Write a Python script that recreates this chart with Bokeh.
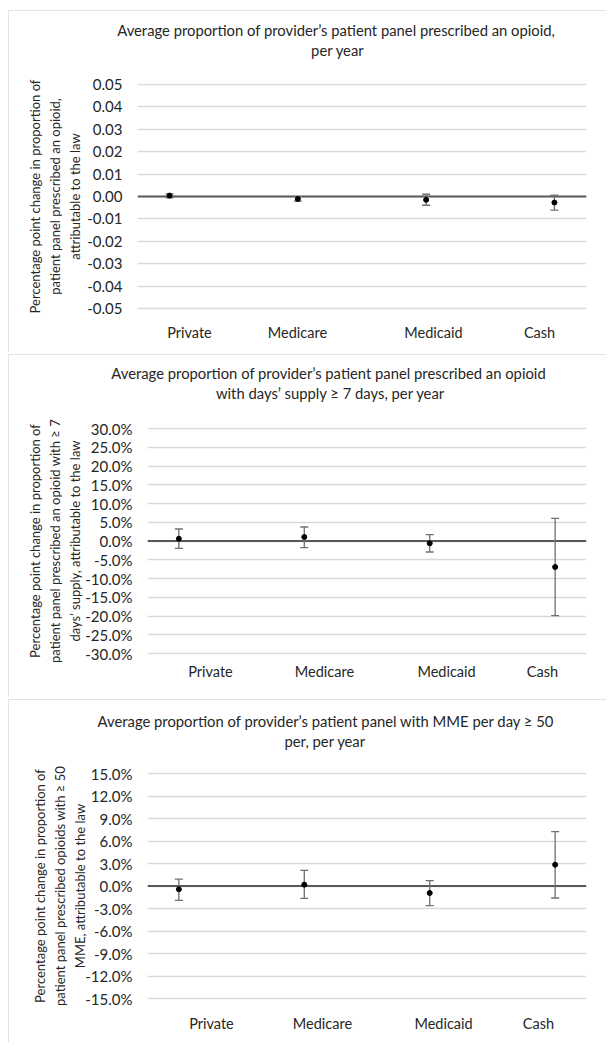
from bokeh.plotting import figure
from bokeh.layouts import column, row
from bokeh.models import FixedTicker, NumeralTickFormatter, Span, Title, ColumnDataSource
from bokeh.embed import file_html
from bokeh.resources import INLINE

# ---------------- data ----------------
CATEGORIES = ["Private", "Medicare", "Medicaid", "Cash"]

P1_EST = [0.0004, -0.0011, -0.0015, -0.0027]
P1_LO = [-0.0006, -0.0021, -0.0039, -0.0061]
P1_HI = [0.0012, -0.0001, 0.0010, 0.0006]
P1_TICKS = [-0.05, -0.04, -0.03, -0.02, -0.01, 0.0, 0.01, 0.02, 0.03, 0.04, 0.05]

P2_EST = [0.0060, 0.0107, -0.0062, -0.0693]
P2_LO = [-0.0195, -0.0178, -0.0293, -0.1990]
P2_HI = [0.0320, 0.0373, 0.0169, 0.0604]
P2_TICKS = [-0.30, -0.25, -0.20, -0.15, -0.10, -0.05, 0.0, 0.05, 0.10, 0.15, 0.20, 0.25, 0.30]

P3_EST = [-0.0044, 0.0018, -0.0093, 0.0284]
P3_LO = [-0.0191, -0.0164, -0.0262, -0.0160]
P3_HI = [0.0093, 0.0209, 0.0071, 0.0724]
P3_TICKS = [-0.15, -0.12, -0.09, -0.06, -0.03, 0.0, 0.03, 0.06, 0.09, 0.12, 0.15]

P1_TITLE = ["Average proportion of provider\u2019s patient panel prescribed an opioid,",
            "per year"]
P1_YTITLE = ["Percentage point change in proportion of",
             "patient panel prescribed an opioid,",
             "attributable to the law"]
P2_TITLE = ["Average proportion of provider\u2019s patient panel prescribed an opioid",
            "with days\u2019 supply \u2265 7 days, per year"]
P2_YTITLE = ["Percentage point change in proportion of",
             "patient panel prescribed an opioid with \u2265 7",
             "days\u2019 supply, attributable to the law"]
P3_TITLE = ["Average proportion of provider\u2019s patient panel with MME per day \u2265 50",
            "per, per year"]
P3_YTITLE = ["Percentage point change in proportion of",
             "patient panel prescribed opioids with \u2265 50",
             "MME, attributable to the law"]

# ---------------- style / layout ----------------
FONT = "Lato"
TEXT = "#262626"
GRID = "#d9d9d9"
ZERO = "#595959"
BAR = "#707070"
XR = (0.75, 4.25)
FIG_W = 598
TITLE_SIZE = "14.8px"


def make_panel(title, ytitle, est, lo, hi, ticks, fmt, geom, label_shift,
               title_offsets, title_gap, ylabel_standoff, cat_standoff):
    fl, fw, ft, fh, fb = geom
    y0, y1 = ticks[0], ticks[-1]
    d = (y1 - y0) / fh
    p = figure(frame_width=fw, frame_height=fh + 2, x_range=XR,
               y_range=(y0 - d, y1 + d),
               output_backend="svg", toolbar_location=None,
               min_border_left=fl, min_border_right=FIG_W - fl - fw,
               min_border_top=ft - 1, min_border_bottom=fb - 1)
    p.styles = {"outline": "1px solid #d9d9d9", "outline-offset": "-1px"}
    p.outline_line_color = None
    p.background_fill_color = "white"
    p.border_fill_color = "white"

    # grid
    p.xgrid.visible = False
    p.ygrid.ticker = FixedTicker(ticks=ticks)
    p.ygrid.grid_line_color = GRID
    p.ygrid.grid_line_width = 1.3
    p.ygrid.level = "image"

    for ax in (p.xaxis[0], p.yaxis[0]):
        ax.axis_line_color = None
        ax.major_tick_line_color = None
        ax.minor_tick_line_color = None
        ax.major_tick_out = 0
        ax.major_tick_in = 0
        ax.minor_tick_out = 0
        ax.minor_tick_in = 0
        ax.major_label_text_font = FONT
        ax.major_label_text_color = TEXT

    # y axis
    p.yaxis.ticker = FixedTicker(ticks=ticks)
    p.yaxis.formatter = NumeralTickFormatter(format=fmt)
    p.yaxis.major_label_standoff = 15
    p.yaxis.major_label_text_font_size = "15px"
    p.yaxis.axis_label = "\n".join(ytitle)
    p.yaxis.axis_label_text_font = FONT
    p.yaxis.axis_label_text_font_size = "13px"
    p.yaxis.axis_label_text_font_style = "normal"
    p.yaxis.axis_label_text_color = TEXT
    p.yaxis.axis_label_text_line_height = 1.27
    p.yaxis.axis_label_standoff = ylabel_standoff

    # x axis (category names)
    xs = [i + 1 for i in range(len(CATEGORIES))]
    label_x = [round(x + s, 3) for x, s in zip(xs, label_shift)]
    p.xaxis.ticker = FixedTicker(ticks=label_x)
    p.xaxis.major_label_overrides = {lx: c for lx, c in zip(label_x, CATEGORIES)}
    p.xaxis.major_label_standoff = cat_standoff
    p.xaxis.major_label_text_font_size = "14.5px"

    # zero line
    p.add_layout(Span(location=0, dimension="width", line_color=ZERO,
                      line_width=2, level="underlay"))

    src = ColumnDataSource(dict(x=xs, est=est, lo=lo, hi=hi, cat=CATEGORIES))
    p.segment(x0="x", y0="lo", x1="x", y1="hi", source=src,
              line_color=BAR, line_width=1.3)
    p.scatter(x="x", y="lo", source=src, marker="dash", size=8,
              line_color=BAR, line_width=1.3)
    p.scatter(x="x", y="hi", source=src, marker="dash", size=8,
              line_color=BAR, line_width=1.3)
    p.scatter(x="x", y="est", source=src, marker="circle", size=5,
              fill_color="black", line_color="black")

    # empty spacer between the plot frame and the two title lines
    p.add_layout(Title(text=" ", text_font=FONT, text_font_size=title_gap,
                       standoff=0), "above")
    # title: two lines, nearest-to-plot line added first
    for line, offset in reversed(list(zip(title, title_offsets))):
        p.add_layout(Title(text=line, align="left", offset=offset, standoff=0,
                           text_font=FONT, text_font_size=TITLE_SIZE,
                           text_font_style="normal", text_color=TEXT), "above")
    return p


p1 = make_panel(P1_TITLE, P1_YTITLE, P1_EST, P1_LO, P1_HI, P1_TICKS, "0.00",
                (129, 449, 74, 224, 44), [0.155, -0.003, 0.057, -0.116],
                [-20.3, 173.6], "19.3px", 1, 14)
p2 = make_panel(P2_TITLE, P2_YTITLE, P2_EST, P2_LO, P2_HI, P2_TICKS, "0.0%",
                (139, 439, 74, 225, 44), [0.252, 0.161, 0.134, -0.101],
                [-36.2, 68.4], "19.8px", -1, 8)
p3 = make_panel(P3_TITLE, P3_YTITLE, P3_EST, P3_LO, P3_HI, P3_TICKS, "0.0%",
                (139, 439, 74, 225, 44), [0.26, 0.145, 0.11, -0.133],
                [-49.9, 137.0], "17px", -6, 15)

layout = column(row(p1), row(p2), row(p3), spacing=2, margin=(10, 0, 0, 8))
open("out.html", "w").write(file_html(layout, INLINE))
